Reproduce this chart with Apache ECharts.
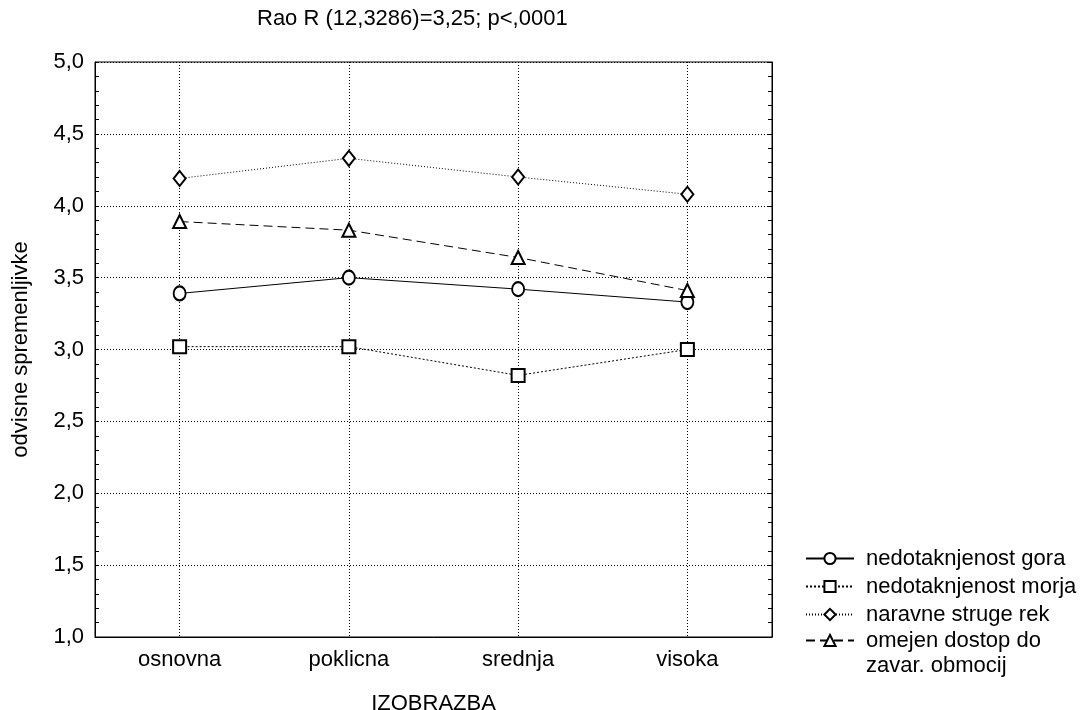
<!DOCTYPE html>
<html>
<head>
<meta charset="utf-8">
<script src="https://cdn.jsdelivr.net/npm/echarts@6/dist/echarts.min.js"></script>
<style>
html,body{margin:0;padding:0;background:#fff;}
#c{width:1083px;height:710px;}
</style>
</head>
<body>
<div id="c"></div>
<script>
var categories = ['osnovna', 'poklicna', 'srednja', 'visoka'];
var seriesNames = ['nedotaknjenost gora', 'nedotaknjenost morja', 'naravne struge rek', 'omejen dostop do\nzavar. obmocij'];
var gora = [3.39, 3.50, 3.42, 3.33];
var morja = [3.02, 3.02, 2.82, 3.00];
var rek = [4.19, 4.33, 4.20, 4.08];
var dostop = [3.89, 3.83, 3.64, 3.41];
var titleText = 'Rao R (12,3286)=3,25; p<,0001';
var xName = 'IZOBRAZBA';
var yName = 'odvisne spremenljivke';

var FONT = 'Liberation Sans, Arial, sans-serif';
var FS = 22;
var chart = echarts.init(document.getElementById('c'));
function fmt(v){ return v.toFixed(1).replace('.', ','); }
var yBase = {
  type: 'value', min: 1, max: 5, interval: 0.5,
  axisLine: {show: true, lineStyle: {color: '#000', width: 1}},
  axisTick: {show: true, inside: true, length: 4, lineStyle: {color: '#000'}},
  minorTick: {show: true, splitNumber: 5, length: 4, lineStyle: {color: '#000'}}
};
var legendBase = {
  orient: 'vertical', left: 805, padding: 0,
  itemWidth: 48, itemHeight: 14, itemGap: 3
};
chart.setOption({
  animation: false,
  backgroundColor: '#fff',
  textStyle: {fontFamily: FONT},
  title: {
    text: titleText, left: 257, top: 8, padding: 0,
    textStyle: {fontFamily: FONT, fontSize: FS, fontWeight: 'normal', color: '#000'}
  },
  grid: {left: 95, right: 311, top: 62, bottom: 73, show: true, borderColor: '#000', borderWidth: 1, outerBoundsMode: 'none', containLabel: false},
  legend: [
    Object.assign({}, legendBase, {
      top: 546,
      textStyle: {fontFamily: FONT, fontSize: FS, color: '#000', lineHeight: 25, padding: [0, 0, 0, 7]},
      data: [seriesNames[0], seriesNames[1], seriesNames[2]]
    }),
    Object.assign({}, legendBase, {
      top: 603,
      formatter: function (name) {
        var p = name.split('\n');
        return '{s| }\n{a|' + p[0] + '}\n{a|' + p[1] + '}';
      },
      textStyle: {
        fontFamily: FONT, fontSize: FS, color: '#000', lineHeight: 25, padding: [0, 0, 0, 7],
        rich: {
          s: {fontFamily: FONT, fontSize: FS, lineHeight: 25},
          a: {fontFamily: FONT, fontSize: FS, lineHeight: 25, color: '#000'}
        }
      },
      data: [seriesNames[3]]
    })
  ],
  xAxis: {
    type: 'category', data: categories, boundaryGap: true,
    name: xName, nameLocation: 'middle', nameGap: 56,
    nameTextStyle: {fontFamily: FONT, fontSize: FS, color: '#000'},
    axisLine: {show: true, lineStyle: {color: '#000'}},
    axisTick: {show: false},
    axisLabel: {fontFamily: FONT, fontSize: FS, color: '#000', margin: 12},
    splitLine: {show: true, alignWithLabel: true, lineStyle: {color: '#000', type: [1, 2], width: 1}}
  },
  yAxis: [
    Object.assign({}, yBase, {
      position: 'left',
      name: yName, nameLocation: 'middle', nameGap: 63,
      nameTextStyle: {fontFamily: FONT, fontSize: FS, color: '#000'},
      axisLabel: {fontFamily: FONT, fontSize: FS, color: '#000', margin: 11, formatter: fmt},
      splitLine: {show: true, lineStyle: {color: '#000', type: [1, 2], width: 1}}
    }),
    Object.assign({}, yBase, {
      position: 'right',
      axisLabel: {show: false},
      splitLine: {show: false}
    })
  ],
  series: [
    {
      name: seriesNames[0], type: 'line', data: gora,
      symbol: 'emptyCircle', symbolSize: [12, 14],
      lineStyle: {color: '#000', width: 1, type: 'solid'},
      itemStyle: {color: '#000', borderWidth: 1.5}
    },
    {
      name: seriesNames[1], type: 'line', data: morja,
      symbol: 'emptyRect', symbolSize: 13,
      lineStyle: {color: '#000', width: 1, type: [2, 2]},
      itemStyle: {color: '#000', borderWidth: 2}
    },
    {
      name: seriesNames[2], type: 'line', data: rek,
      symbol: 'emptyDiamond', symbolSize: [12, 15],
      lineStyle: {color: '#000', width: 1, type: [1, 2]},
      itemStyle: {color: '#000', borderWidth: 1.2}
    },
    {
      name: seriesNames[3], type: 'line', data: dostop,
      symbol: 'emptyTriangle', symbolSize: 13,
      lineStyle: {color: '#000', width: 1, type: [9, 5]},
      itemStyle: {color: '#000', borderWidth: 2}
    }
  ]
});
</script>
</body>
</html>
